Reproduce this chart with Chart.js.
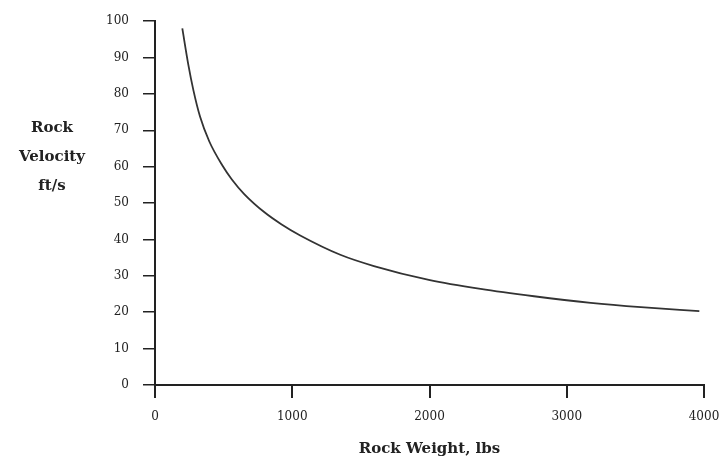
<!DOCTYPE html>
<html>
<head>
<meta charset="utf-8">
<script src="https://cdn.jsdelivr.net/npm/chart.js@4"></script>
<style>
  html, body { margin: 0; padding: 0; background: #fff; }
  #wrap { width: 721px; height: 462px; position: relative; }
</style>
</head>
<body>
<div id="wrap"><canvas id="graficoRoca"></canvas></div>
<script>
// valores
var pesoRoca = [199, 243, 280, 328, 395, 490, 560, 650, 800, 920, 1058, 1350, 1595, 1995, 2372, 2761, 3175, 3540, 3966];
var velocidadRoca = [98, 88, 81, 73.8, 67, 60.4, 56.5, 52.5, 47.4, 44.2, 41.1, 35.8, 32.7, 28.9, 26.4, 24.4, 22.6, 21.4, 20.3];
var ticksX = [0, 1000, 2000, 3000, 4000];
var ticksY = [0, 10, 20, 30, 40, 50, 60, 70, 80, 90, 100];
var tituloY = ['Rock', 'Velocity', 'ft/s'];
var tituloX = 'Rock Weight, lbs';

var puntos = pesoRoca.map(function (w, i) { return { x: w, y: velocidadRoca[i] }; });

// titulo del eje Y en horizontal, a la izquierda
const tituloIzq = {
  id: 'tituloIzq',
  afterDraw: function (chart) {
    const ctx = chart.ctx;
    ctx.save();
    ctx.fillStyle = '#222';
    ctx.font = 'bold 15px "DejaVu Serif", serif';
    ctx.textAlign = 'center';
    ctx.textBaseline = 'middle';
    tituloY.forEach(function (t, i) { ctx.fillText(t, 52, 128 + i * 29); });
    ctx.restore();
  }
};

new Chart(document.getElementById('graficoRoca'), {
  type: 'scatter',
  data: {
    datasets: [{
      data: puntos,
      showLine: true,
      borderColor: '#333',
      borderWidth: 1.8,
      pointRadius: 0,
      cubicInterpolationMode: 'monotone'
    }]
  },
  options: {
    responsive: true,
    maintainAspectRatio: false,
    animation: false,
    layout: { padding: { top: 16, right: 17, left: 0, bottom: 0 } },
    plugins: {
      legend: { display: false },
      tooltip: { enabled: false },
      title: { display: false }
    },
    scales: {
      x: {
        type: 'linear',
        min: 0, max: 4000,
        afterBuildTicks: function (s) { s.ticks = ticksX.map(function (v) { return { value: v }; }); },
        afterFit: function (s) { s.height = 77; s.paddingRight = 0; s.paddingLeft = 0; },
        grid: { drawOnChartArea: false, drawTicks: true, tickLength: 13, color: '#222', lineWidth: 2 },
        border: { color: '#222', width: 2 },
        ticks: {
          color: '#222', padding: 12,
          font: { family: '"DejaVu Serif", serif', size: 12 },
          callback: function (v) { return String(v); }
        },
        title: { display: true, text: tituloX, color: '#222', padding: { top: 3 }, font: { family: '"DejaVu Serif", serif', size: 15, weight: 'bold' } }
      },
      y: {
        type: 'linear',
        min: 0, max: 100,
        afterBuildTicks: function (s) { s.ticks = ticksY.map(function (v) { return { value: v }; }); },
        afterFit: function (s) { s.width = 155; },
        grid: { drawOnChartArea: false, drawTicks: true, tickLength: 12, color: '#222', lineWidth: 1.5 },
        border: { color: '#222', width: 2 },
        ticks: { color: '#222', padding: 14, font: { family: '"DejaVu Serif", serif', size: 12 } }
      }
    }
  },
  plugins: [tituloIzq]
});
</script>
</body>
</html>
